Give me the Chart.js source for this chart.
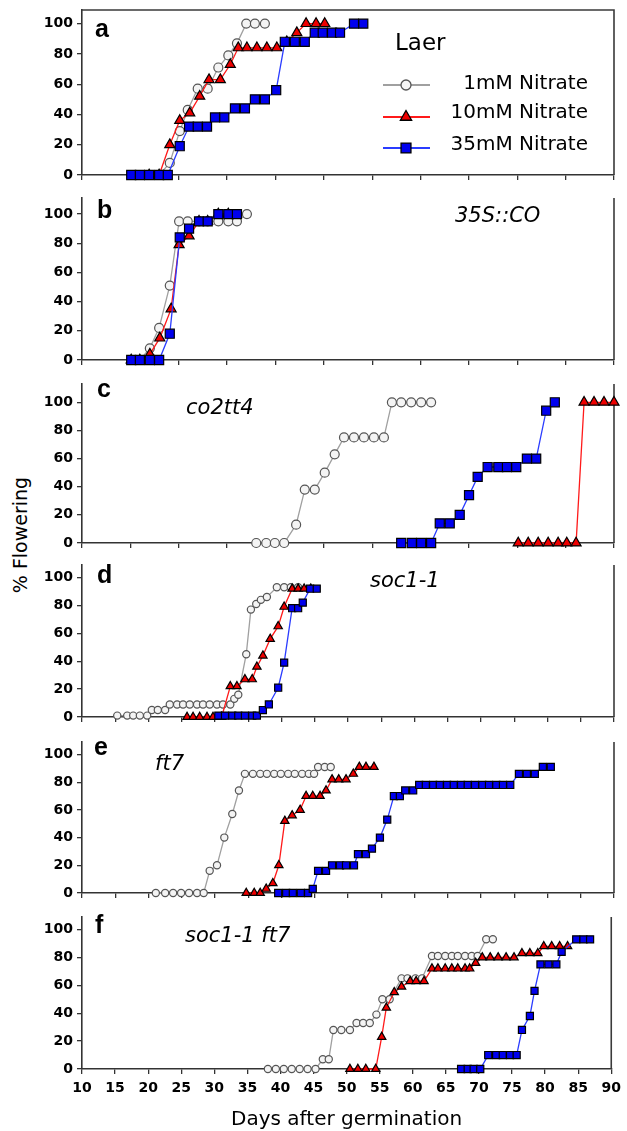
<!DOCTYPE html>
<html><head><meta charset="utf-8">
<script src="https://cdn.jsdelivr.net/npm/chart.js@4.4.1/dist/chart.umd.min.js"></script>
<style>
html,body{margin:0;padding:0;background:#fff}
body{position:relative;width:627px;height:1131px;overflow:hidden}
canvas{position:absolute;left:0}
#ylab{position:absolute;left:-79px;top:523px;width:200px;height:24px;line-height:24px;text-align:center;transform:rotate(-90deg);font:19px "DejaVu Sans";color:#000;white-space:nowrap}
</style></head><body>
<div id="ylab">% Flowering</div>
<script>
// ---- data: [day, % flowering] ----
const seriesNames = ['1mM Nitrate', '10mM Nitrate', '35mM Nitrate'];
const yTickValues = [0, 20, 40, 60, 80, 100];
const xTickLabels = [10, 15, 20, 25, 30, 35, 40, 45, 50, 55, 60, 65, 70, 75, 80, 85, 90];

// a  Laer
const a_1mM = [[18.7,0],[20.1,0],[21.6,0],[23.2,8],[24.7,29],[25.9,43],[27.4,57],[28.9,57],[30.5,71],[32.0,79],[33.3,87],[34.7,100],[36.0,100],[37.5,100]];
const a_10mM = [[20.1,0],[21.6,0],[23.2,20],[24.7,36],[26.2,41],[27.7,52],[29.1,63],[30.8,63],[32.3,73],[33.5,84],[34.8,84],[36.3,84],[37.8,84],[39.3,84],[40.8,88],[42.3,94],[43.7,100],[45.2,100],[46.5,100]];
const a_35mM = [[17.4,0],[18.7,0],[20.1,0],[21.6,0],[22.9,0],[24.7,19],[26.1,32],[27.4,32],[28.8,32],[30.0,38],[31.4,38],[33.0,44],[34.5,44],[36.0,50],[37.5,50],[39.2,56],[40.5,88],[42.0,88],[43.5,88],[45.0,94],[46.2,94],[47.6,94],[48.8,94],[50.9,100],[52.3,100]];
// b  35S::CO
const b_1mM = [[18.7,0],[20.2,8],[21.6,22],[23.2,51],[24.6,95],[25.9,95],[27.6,95],[28.9,95],[30.5,95],[32.0,95],[33.3,95],[34.8,100]];
const b_10mM = [[17.4,0],[18.7,0],[20.2,4],[21.7,15],[23.4,35],[24.6,79],[26.1,85],[27.6,95],[28.9,95],[30.5,100],[32.0,100]];
const b_35mM = [[17.4,0],[18.7,0],[20.2,0],[21.6,0],[23.2,18],[24.7,84],[26.1,90],[27.6,95],[28.9,95],[30.5,100],[32.0,100],[33.3,100]];
// c  co2tt4
const c_1mM = [[36.2,0],[37.7,0],[39.0,0],[40.4,0],[42.2,13],[43.5,38],[45.0,38],[46.5,50],[48.0,63],[49.4,75],[50.9,75],[52.4,75],[53.9,75],[55.4,75],[56.6,100],[58.0,100],[59.5,100],[61.0,100],[62.5,100]];
const c_10mM = [[75.6,0],[77.1,0],[78.6,0],[80.1,0],[81.6,0],[82.9,0],[84.3,0],[85.5,100],[87.0,100],[88.5,100],[90.0,100]];
const c_35mM = [[58.0,0],[59.6,0],[61.0,0],[62.5,0],[63.8,14],[65.3,14],[66.8,20],[68.2,34],[69.5,47],[71.0,54],[72.6,54],[73.9,54],[75.3,54],[76.9,60],[78.3,60],[79.8,94],[81.1,100]];
// d  soc1-1
const d_1mM = [[15.3,1],[16.8,1],[17.7,1],[18.7,1],[19.8,1],[20.5,5],[21.4,5],[22.5,5],[23.2,9],[24.3,9],[25.2,9],[26.2,9],[27.3,9],[28.2,9],[29.2,9],[30.3,9],[31.2,9],[32.3,9],[32.9,13],[33.5,16],[34.7,45],[35.4,77],[36.2,81],[36.9,84],[37.8,86],[39.3,93],[40.4,93],[41.4,93],[42.5,93]];
const d_10mM = [[25.8,0],[26.7,0],[27.7,0],[28.8,0],[29.7,0],[31.0,0],[32.3,22],[33.3,22],[34.5,27],[35.6,27],[36.3,36],[37.2,44],[38.3,56],[39.5,65],[40.4,79],[41.6,92],[42.5,92],[43.4,92],[44.4,92]];
const d_35mM = [[30.5,1],[31.5,1],[32.6,1],[33.5,1],[34.5,1],[35.6,1],[36.3,1],[37.2,5],[38.1,9],[39.5,21],[40.4,39],[41.6,78],[42.5,78],[43.2,82],[44.3,92],[45.3,92]];
// e  ft7
const e_1mM = [[21.1,0],[22.5,0],[23.7,0],[24.9,0],[26.1,0],[27.3,0],[28.3,0],[29.2,16],[30.3,20],[31.4,40],[32.6,57],[33.6,74],[34.5,86],[35.7,86],[36.8,86],[37.8,86],[38.9,86],[39.9,86],[41.0,86],[42.0,86],[43.1,86],[44.1,86],[44.9,86],[45.5,91],[46.5,91],[47.4,91]];
const e_10mM = [[34.7,0],[35.9,0],[36.8,0],[37.7,3],[38.7,7],[39.6,20],[40.5,52],[41.6,56],[42.8,60],[43.7,70],[44.7,70],[45.8,70],[46.7,74],[47.6,82],[48.6,82],[49.7,82],[50.8,86],[51.7,91],[52.7,91],[53.9,91]];
const e_35mM = [[39.5,0],[40.7,0],[41.7,0],[42.9,0],[44.0,0],[44.7,3],[45.5,16],[46.7,16],[47.6,20],[48.8,20],[49.7,20],[50.9,20],[51.5,28],[52.7,28],[53.6,32],[54.8,40],[55.9,53],[56.9,70],[57.8,70],[58.6,74],[59.8,74],[60.7,78],[61.7,78],[62.8,78],[63.8,78],[64.9,78],[65.9,78],[67.0,78],[68.0,78],[69.1,78],[70.2,78],[71.2,78],[72.3,78],[73.3,78],[74.4,78],[75.7,86],[76.9,86],[78.1,86],[79.3,91],[80.5,91]];
// f  soc1-1 ft7
const f_1mM = [[38.1,0],[39.3,0],[40.5,0],[41.7,0],[42.9,0],[44.1,0],[45.3,0],[46.4,7],[47.3,7],[48.0,28],[49.2,28],[50.5,28],[51.5,33],[52.5,33],[53.5,33],[54.5,39],[55.4,50],[56.5,50],[58.3,65],[59.2,65],[60.4,65],[61.4,65],[62.9,81],[63.8,81],[64.9,81],[65.9,81],[66.8,81],[67.9,81],[68.9,81],[69.8,81],[71.1,93],[72.1,93]];
const f_10mM = [[50.5,0],[51.7,0],[52.9,0],[54.4,0],[55.3,23],[56.0,44],[57.2,55],[58.3,59],[59.6,63],[60.5,63],[61.7,63],[62.9,72],[63.8,72],[64.9,72],[65.9,72],[66.8,72],[67.9,72],[68.6,72],[69.5,76],[70.5,80],[71.7,80],[72.9,80],[74.1,80],[75.3,80],[76.5,83],[77.7,83],[78.9,83],[79.8,88],[81.0,88],[82.2,88],[83.4,88]];
const f_35mM = [[67.3,0],[68.3,0],[69.2,0],[70.2,0],[71.4,10],[72.6,10],[73.6,10],[74.7,10],[75.7,10],[76.5,28],[77.7,38],[78.4,56],[79.3,75],[80.5,75],[81.7,75],[82.5,84],[84.7,93],[85.8,93],[86.8,93]];

// ---- styling ----
const FONT = '"DejaVu Sans"';
const STY = [
  {style:'circle',   line:'#a0a0a0', fill:'#f4f4f4', edge:'#555555', order:2, r:[4.5,3.6], lr:5},
  {style:'triangle', line:'#ff1a1a', fill:'#ee0000', edge:'#000000', order:1, r:[5.8,4.8], lr:6.5},
  {style:'rect',     line:'#2a3cff', fill:'#0000ee', edge:'#000000', order:0, r:[6.4,5.0], lr:7}
];

const panels = [
  {letter:'a', gene:'',           series:[a_1mM,a_10mM,a_35mM], top:10,  zero:175,  yMax:109, fine:false, box:true,  legend:true, lx:95, ly:37,  gx:0,   gy:0},
  {letter:'b', gene:'35S::CO',    series:[b_1mM,b_10mM,b_35mM], top:198, zero:360,  yMax:111, fine:false, box:false, legend:false, lx:97, ly:218, gx:455, gy:222},
  {letter:'c', gene:'co2tt4',     series:[c_1mM,c_10mM,c_35mM], top:384, zero:543,  yMax:113, fine:false, box:false, legend:false, lx:97, ly:397, gx:186, gy:414},
  {letter:'d', gene:'soc1-1',     series:[d_1mM,d_10mM,d_35mM], top:565, zero:717,  yMax:109, fine:true,  box:false, legend:false, lx:97, ly:583, gx:370, gy:587},
  {letter:'e', gene:'ft7',        series:[e_1mM,e_10mM,e_35mM], top:742, zero:893,  yMax:109, fine:true,  box:false, legend:false, lx:94, ly:755, gx:155, gy:770},
  {letter:'f', gene:'soc1-1 ft7', series:[f_1mM,f_10mM,f_35mM], top:917, zero:1069, yMax:109, fine:true,  box:false, legend:false, lx:95, ly:933, gx:185, gy:942, labels:true}
];

function drawMarker(ctx, st, x, y, r) {
  ctx.beginPath();
  if (st.style === 'circle') ctx.arc(x, y, r, 0, Math.PI * 2);
  else if (st.style === 'triangle') { ctx.moveTo(x, y - r); ctx.lineTo(x + 0.866 * r, y + r / 2); ctx.lineTo(x - 0.866 * r, y + r / 2); ctx.closePath(); }
  else { const s = r * Math.SQRT1_2; ctx.rect(x - s, y - s, 2 * s, 2 * s); }
  ctx.fillStyle = st.fill; ctx.strokeStyle = st.edge; ctx.lineWidth = 1.3;
  ctx.fill(); ctx.stroke();
}

const legendRows = [85, 117, 148];
const legendBase = [89, 118, 150];

const deco = {
  id: 'deco',
  beforeDatasetsDraw(chart) {
    const p = chart.$panel, ctx = chart.ctx, ca = chart.chartArea, off = p.canvasTop;
    ctx.save();
    ctx.strokeStyle = '#3a3a3a'; ctx.lineWidth = 1.6;
    ctx.beginPath();
    ctx.moveTo(ca.right, ca.bottom); ctx.lineTo(ca.right, ca.top);
    if (p.box) ctx.lineTo(ca.left, ca.top);
    ctx.stroke();
    ctx.fillStyle = '#000'; ctx.textAlign = 'left'; ctx.textBaseline = 'alphabetic';
    ctx.font = 'bold 25px "Liberation Sans"';
    ctx.fillText(p.letter, p.lx, p.ly - off);
    if (p.gene) { ctx.font = 'italic 21px ' + FONT; ctx.fillText(p.gene, p.gx, p.gy - off); }
    ctx.restore();
  },
  afterDraw(chart) {
    const p = chart.$panel;
    if (!p.legend) return;
    const ctx = chart.ctx, off = p.canvasTop;
    ctx.save();
    ctx.fillStyle = '#000'; ctx.textBaseline = 'alphabetic';
    ctx.font = '23px ' + FONT; ctx.textAlign = 'left';
    ctx.fillText('Laer', 395, 50 - off);
    ctx.font = '20px ' + FONT; ctx.textAlign = 'right';
    seriesNames.forEach((name, i) => {
      const y = legendRows[i] - off, st = STY[i];
      ctx.strokeStyle = st.line; ctx.lineWidth = 2;
      ctx.beginPath(); ctx.moveTo(383, y); ctx.lineTo(430, y); ctx.stroke();
      drawMarker(ctx, st, 406, y, st.lr);
      ctx.fillStyle = '#000';
      ctx.fillText(name, 588, legendBase[i] - off);
    });
    ctx.restore();
  }
};

const AXIS = '#333333';
panels.forEach((p) => {
  const padTop = 16;
  const bottomH = p.labels ? (1131 - p.zero) : 16;
  p.canvasTop = p.top - padTop;
  const H = (p.zero - p.top) + padTop + bottomH;
  const cv = document.createElement('canvas');
  cv.width = 627; cv.height = H; cv.style.top = p.canvasTop + 'px';
  document.body.appendChild(cv);
  const k = p.fine ? 1 : 0;
  const datasets = p.series.map((data, i) => ({
    label: seriesNames[i], data,
    borderColor: STY[i].line, borderWidth: 1.3, tension: 0, fill: false, clip: false,
    pointStyle: STY[i].style, pointRadius: STY[i].r[k], pointBackgroundColor: STY[i].fill,
    pointBorderColor: STY[i].edge, pointBorderWidth: 1.2, order: STY[i].order
  }));
  const xTicks = p.fine
    ? {display: !!p.labels, stepSize: 5, autoSkip: false, maxRotation: 0, color: '#000',
       font: {family: 'DejaVu Sans', size: 14, weight: 'bold'}, padding: 6,
       callback: (v) => xTickLabels.includes(v) ? String(v) : ''}
    : {display: false, count: 12, maxTicksLimit: 12};
  new Chart(cv, {
    type: 'line',
    data: {datasets},
    options: {
      responsive: false, animation: false, devicePixelRatio: 1, events: [],
      layout: {padding: {top: padTop, right: 13, left: 0, bottom: 0}},
      plugins: {legend: {display: false}, tooltip: {enabled: false}},
      scales: {
        x: {
          type: 'linear', min: 10, max: 90,
          grid: {drawOnChartArea: false, drawTicks: true, tickLength: 5, color: AXIS, lineWidth: 1.3},
          border: {display: true, color: AXIS, width: 1.6},
          ticks: xTicks,
          title: p.labels ? {display: true, text: 'Days after germination', color: '#000',
                  font: {family: 'DejaVu Sans', size: 20, lineHeight: 1}, padding: {top: 0, bottom: 1}} : {display: false},
          afterFit: (s) => { s.height = bottomH; }
        },
        y: {
          type: 'linear', min: 0, max: p.yMax,
          grid: {drawOnChartArea: false, drawTicks: true, tickLength: 5, color: AXIS, lineWidth: 1.3},
          border: {display: true, color: AXIS, width: 1.6},
          ticks: {stepSize: 20, includeBounds: false, color: '#000', padding: 4,
                  font: {family: 'DejaVu Sans', size: 14, weight: 'bold'},
                  callback: (v) => yTickValues.includes(v) ? String(v) : ''},
          afterFit: (s) => { s.width = 82; }
        }
      }
    },
    plugins: [{id: 'attach', beforeInit(c) { c.$panel = p; }}, deco]
  });
});
</script>
</body></html>
